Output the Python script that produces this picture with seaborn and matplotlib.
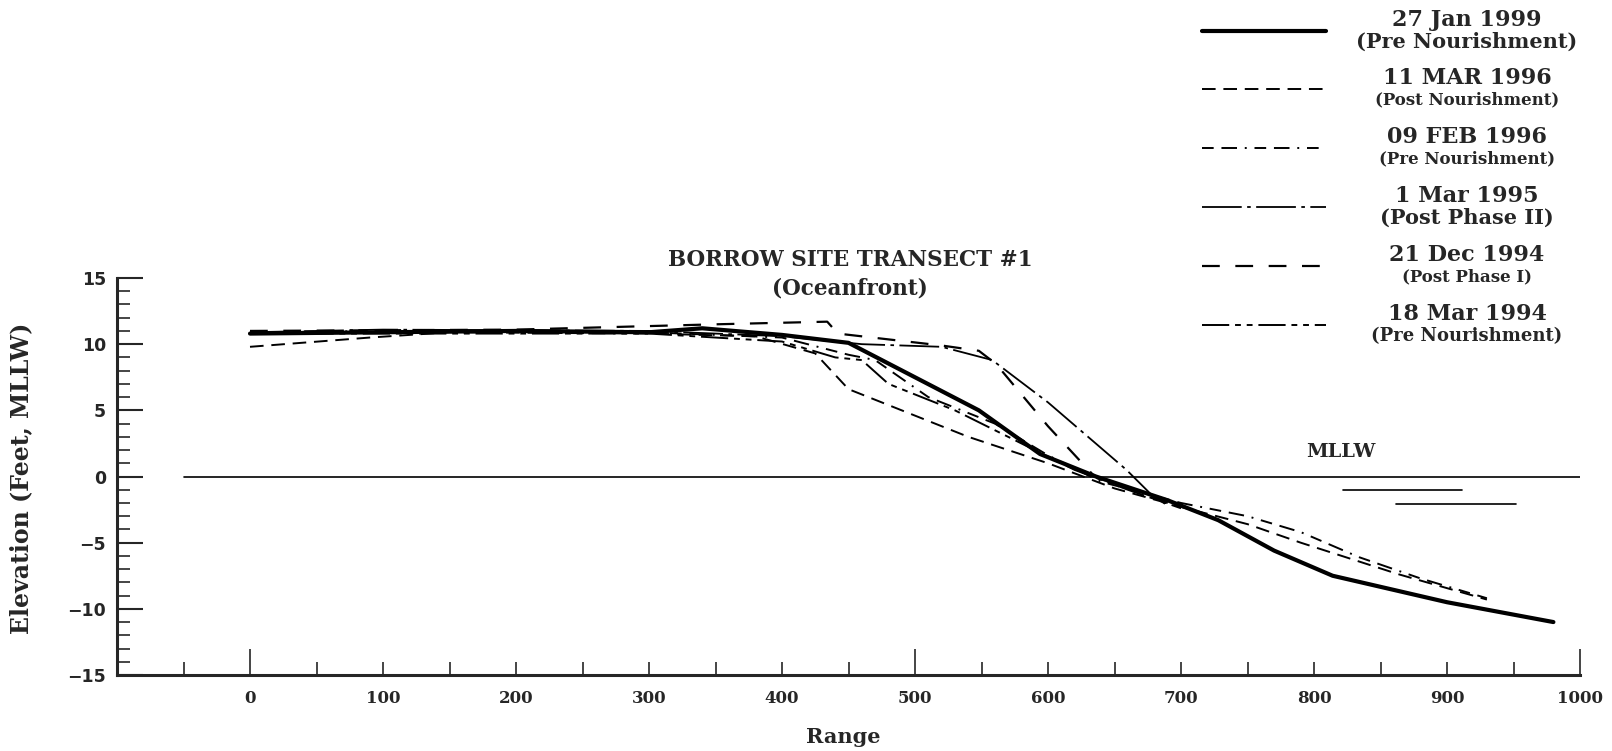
import matplotlib
matplotlib.use('Agg')
import matplotlib.pyplot as plt
import seaborn as sns
import pandas as pd
import numpy as np

sns.set_style('ticks')
plt.rcParams['font.family'] = ['DejaVu Serif']
plt.rcParams['font.weight'] = 'bold'

# ---- profile data (range, elevation) ----
jan1999_x = [0, 100, 200, 300, 340, 400, 450, 548, 594, 636, 690, 728, 770, 814, 900, 980]
jan1999_y = [10.8, 10.9, 11.0, 10.9, 11.2, 10.7, 10.1, 5.0, 1.7, 0.0, -1.8, -3.3, -5.6, -7.5, -9.5, -11.0]

mar1996_x = [0, 90, 150, 300, 380, 425, 450, 540, 600, 650, 700, 750, 790, 864, 930]
mar1996_y = [9.8, 10.5, 10.9, 10.8, 10.6, 9.3, 6.6, 3.0, 1.0, -0.9, -2.3, -3.6, -5.0, -7.4, -9.3]

feb1996_x = [0, 100, 300, 400, 450, 470, 510, 560, 600, 640, 700, 750, 790, 834, 880, 930]
feb1996_y = [10.9, 11.0, 10.9, 10.5, 9.2, 8.8, 6.0, 4.0, 1.6, -0.4, -2.0, -3.0, -4.2, -6.1, -7.7, -9.2]

mar1995_x = [0, 100, 300, 400, 460, 520, 558, 600, 659, 678, 690]
mar1995_y = [10.9, 11.1, 11.0, 10.6, 10.0, 9.8, 8.8, 5.6, 0.5, -1.4, -2.2]

dec1994_x = [0, 200, 350, 434, 442, 520, 548, 561, 600, 635, 690]
dec1994_y = [11.0, 11.1, 11.5, 11.7, 10.8, 9.9, 9.5, 8.5, 3.8, 0.0, -2.0]

mar1994_x = [0, 300, 400, 440, 460, 480, 530, 580, 620, 660, 700]
mar1994_y = [10.8, 10.8, 10.2, 9.0, 8.8, 7.0, 5.0, 2.5, 0.5, -1.0, -2.4]

mllw_x = [-50, 1005]
mllw_y = [0, 0]
short1_x = [822, 911]
short1_y = [-1.0, -1.0]
short2_x = [862, 952]
short2_y = [-2.1, -2.1]

series_names = ['27 Jan 1999', '11 MAR 1996', '09 FEB 1996', '1 Mar 1995', '21 Dec 1994', '18 Mar 1994']
series_notes = ['(Pre Nourishment)', '(Post Nourishment)', '(Pre Nourishment)',
                '(Post Phase II)', '(Post Phase I)', '(Pre Nourishment)']
series_x = [jan1999_x, mar1996_x, feb1996_x, mar1995_x, dec1994_x, mar1994_x]
series_y = [jan1999_y, mar1996_y, feb1996_y, mar1995_y, dec1994_y, mar1994_y]

styles = [
    dict(lw=3.0, ls='-'),
    dict(lw=1.4, ls=(0, (7, 4))),
    dict(lw=1.4, ls=(0, (6, 4, 8, 4, 1, 4))),
    dict(lw=1.3, ls=(0, (22, 3, 2, 3))),
    dict(lw=1.6, ls=(0, (8, 7))),
    dict(lw=1.4, ls=(0, (14, 3, 3, 3, 3, 3))),
]
note_sizes = [15, 12, 12, 15, 12, 13]

W, H = 1612, 751
fig = plt.figure(figsize=(W / 100, H / 100), dpi=100)
ax = fig.add_axes([117 / W, 1 - 675 / H, (1580 - 117) / W, (675 - 278) / H])

for name, xs, ys, st in zip(series_names, series_x, series_y, styles):
    df = pd.DataFrame({'Range': xs, 'Elevation': ys})
    sns.lineplot(data=df, x='Range', y='Elevation', ax=ax, sort=False, color='black',
                 lw=st['lw'], linestyle=st['ls'], estimator=None)

for xs, ys in [(mllw_x, mllw_y), (short1_x, short1_y), (short2_x, short2_y)]:
    ax.plot(xs, ys, color='black', lw=1.2)

ax.set_xlim(-100, 1000)
ax.set_ylim(-15, 15)
ax.set_xlabel('')
ax.set_ylabel('')
sns.despine(ax=ax)
ax.spines['left'].set_linewidth(2.2)
ax.spines['bottom'].set_linewidth(2.2)
ax.spines['bottom'].set_bounds(-100, 1000)

ax.set_xticks(np.arange(0, 1001, 100))
ax.set_xticks(np.arange(-50, 1000, 50), minor=True)
ax.set_yticks(np.arange(-15, 16, 5))
ax.set_yticks(np.arange(-15, 16, 1), minor=True)
ax.tick_params(axis='x', which='both', direction='in', length=9.5, width=1.2, pad=11,
               labelsize=12)
ax.tick_params(axis='y', which='major', direction='in', length=19, width=1.5, pad=8,
               labelsize=12.5)
ax.tick_params(axis='y', which='minor', direction='in', length=9, width=1.2)
for t, v in zip(ax.xaxis.get_major_ticks(), np.arange(0, 1001, 100)):
    if v in (0, 500, 1000):
        t.tick1line.set_markersize(19)
ax.set_yticklabels([str(v).replace('-', '\u2212') for v in range(-15, 16, 5)],
                   fontfamily='DejaVu Sans', fontweight='bold')
ax.grid(False)

ax.text(820, 1.85, 'MLLW', ha='center', va='center', fontsize=14, fontweight='bold')

# figure-level texts in pixel coordinates
def ftext(x, y, s, **kw):
    fig.text(x / W, 1 - y / H, s, ha='center', va='center', fontweight='bold', **kw)

ftext(850, 260, 'BORROW SITE TRANSECT #1', fontsize=15.5)
ftext(850, 289, '(Oceanfront)', fontsize=15.5)
ftext(843, 737, 'Range', fontsize=15)
ftext(21, 478, 'Elevation (Feet, MLLW)', fontsize=17, rotation=90)

# legend drawn in an overlay axes using pixel coordinates
lax = fig.add_axes([0, 0, 1, 1], facecolor='none')
lax.set_xlim(0, W)
lax.set_ylim(H, 0)
lax.axis('off')
line_y = [31, 89, 148, 207, 266, 325]
for i, st in enumerate(styles):
    y0 = line_y[i]
    lax.plot([1202, 1326], [y0, y0], color='black', lw=st['lw'], linestyle=st['ls'])
    lax.text(1467, y0 - 11, series_names[i], ha='center', va='center', fontsize=16, fontweight='bold')
    lax.text(1467, y0 + 11, series_notes[i], ha='center', va='center',
             fontsize=note_sizes[i], fontweight='bold')

fig.savefig('out.png', dpi=100)
